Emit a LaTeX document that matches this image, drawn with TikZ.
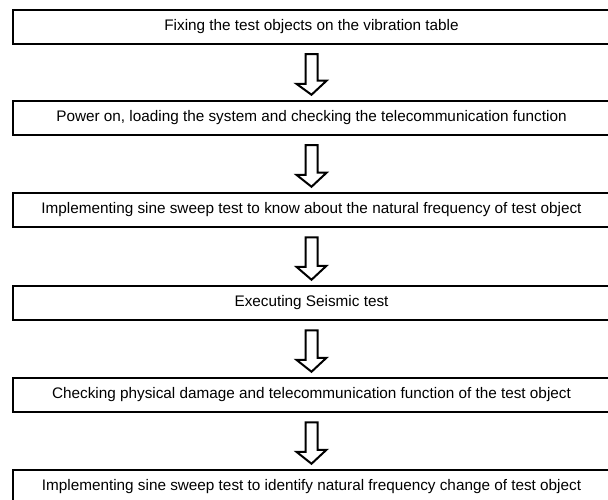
\documentclass[tikz,border=0pt]{standalone}
\usepackage{fontspec}
\setmainfont{Liberation Sans}
\usetikzlibrary{calc}

\begin{document}
\begin{tikzpicture}[x=1pt, y=1pt,
		stepbox/.style={draw, line width=2.5pt, minimum width=597pt, minimum height=34pt, inner sep=0pt, font=\fontsize{15.3}{17}\selectfont},
		downarrow/.style={draw, line width=2pt, fill=white, line join=miter}]
		\useasboundingbox (0,0) rectangle (608,-500);
		
		% steps of the test
		\node[stepbox] (s1) at (311.5,-27) {Fixing the test objects on the vibration table};
		\node[stepbox] (s2) at (311.5,-118) {Power on, loading the system and checking the telecommunication function};
		\node[stepbox] (s3) at (311.5,-210) {Implementing sine sweep test to know about the natural frequency of test object};
		\node[stepbox] (s4) at (311.5,-303) {Executing Seismic test};
		\node[stepbox] (s5) at (311.5,-395) {Checking physical damage and telecommunication function of the test object};
		\node[stepbox] (s6) at (311.5,-487) {Implementing sine sweep test to identify natural frequency change of test object};
		
		% hollow arrows between the steps
		\foreach \a/\b in {s1/s2,s2/s3,s3/s4,s4/s5,s5/s6}{
			\draw[downarrow] ($(\a.south)+(-6,-9)$) -- ++(0,-29.6) -- ++(-9,0)
				-- ($(\b.north)+(0,5)$) -- ++(15,14) -- ++(-9,0) -- ($(\a.south)+(6,-9)$) -- cycle;
		}
		
\end{tikzpicture}
\end{document}
